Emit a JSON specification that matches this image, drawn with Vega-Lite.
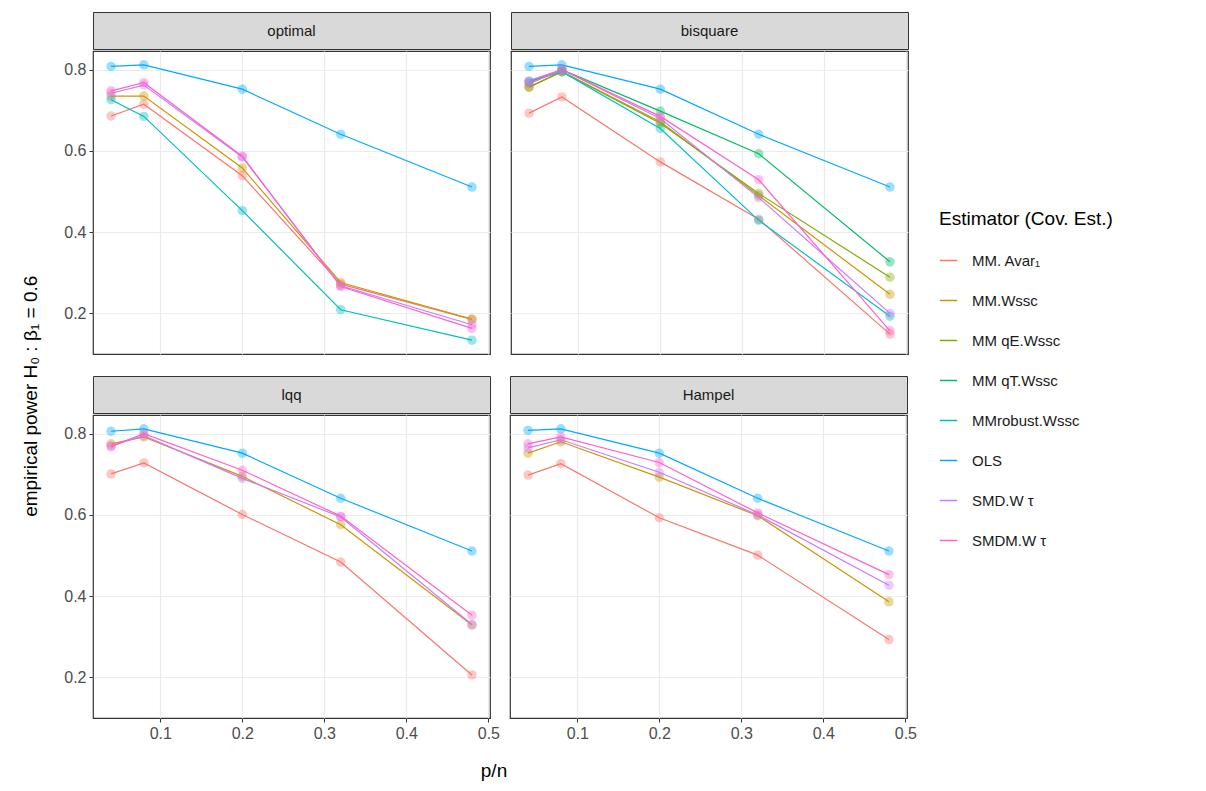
{
  "$schema": "https://vega.github.io/schema/vega-lite/v6.json",
  "background": "white",
  "padding": {"left": 22, "top": 11, "right": 6, "bottom": 6},
  "title": {"text": "empirical power   H₀ : β₁ = 0.6", "orient": "left", "anchor": "middle", "fontSize": 19, "fontWeight": "normal", "color": "#000000", "offset": 22},
  "datasets": {
    "pts": [
      {"panel":"optimal","est":"OLS","x":0.04,"y":0.808},{"panel":"optimal","est":"OLS","x":0.08,"y":0.812},{"panel":"optimal","est":"OLS","x":0.2,"y":0.752},{"panel":"optimal","est":"OLS","x":0.32,"y":0.641},{"panel":"optimal","est":"OLS","x":0.48,"y":0.511},
      {"panel":"optimal","est":"MM. Avar₁","x":0.04,"y":0.686},{"panel":"optimal","est":"MM. Avar₁","x":0.08,"y":0.715},{"panel":"optimal","est":"MM. Avar₁","x":0.2,"y":0.539},{"panel":"optimal","est":"MM. Avar₁","x":0.32,"y":0.272},{"panel":"optimal","est":"MM. Avar₁","x":0.48,"y":0.185},
      {"panel":"optimal","est":"MM.Wssc","x":0.04,"y":0.735},{"panel":"optimal","est":"MM.Wssc","x":0.08,"y":0.735},{"panel":"optimal","est":"MM.Wssc","x":0.2,"y":0.558},{"panel":"optimal","est":"MM.Wssc","x":0.32,"y":0.276},{"panel":"optimal","est":"MM.Wssc","x":0.48,"y":0.186},
      {"panel":"optimal","est":"MMrobust.Wssc","x":0.04,"y":0.726},{"panel":"optimal","est":"MMrobust.Wssc","x":0.08,"y":0.685},{"panel":"optimal","est":"MMrobust.Wssc","x":0.2,"y":0.453},{"panel":"optimal","est":"MMrobust.Wssc","x":0.32,"y":0.209},{"panel":"optimal","est":"MMrobust.Wssc","x":0.48,"y":0.134},
      {"panel":"optimal","est":"SMD.W τ","x":0.04,"y":0.742},{"panel":"optimal","est":"SMD.W τ","x":0.08,"y":0.762},{"panel":"optimal","est":"SMD.W τ","x":0.2,"y":0.585},{"panel":"optimal","est":"SMD.W τ","x":0.32,"y":0.268},{"panel":"optimal","est":"SMD.W τ","x":0.48,"y":0.172},
      {"panel":"optimal","est":"SMDM.W τ","x":0.04,"y":0.748},{"panel":"optimal","est":"SMDM.W τ","x":0.08,"y":0.768},{"panel":"optimal","est":"SMDM.W τ","x":0.2,"y":0.587},{"panel":"optimal","est":"SMDM.W τ","x":0.32,"y":0.266},{"panel":"optimal","est":"SMDM.W τ","x":0.48,"y":0.163},

      {"panel":"bisquare","est":"OLS","x":0.04,"y":0.808},{"panel":"bisquare","est":"OLS","x":0.08,"y":0.812},{"panel":"bisquare","est":"OLS","x":0.2,"y":0.752},{"panel":"bisquare","est":"OLS","x":0.32,"y":0.641},{"panel":"bisquare","est":"OLS","x":0.48,"y":0.511},
      {"panel":"bisquare","est":"MM. Avar₁","x":0.04,"y":0.693},{"panel":"bisquare","est":"MM. Avar₁","x":0.08,"y":0.733},{"panel":"bisquare","est":"MM. Avar₁","x":0.2,"y":0.573},{"panel":"bisquare","est":"MM. Avar₁","x":0.32,"y":0.432},{"panel":"bisquare","est":"MM. Avar₁","x":0.48,"y":0.149},
      {"panel":"bisquare","est":"MM.Wssc","x":0.04,"y":0.757},{"panel":"bisquare","est":"MM.Wssc","x":0.08,"y":0.795},{"panel":"bisquare","est":"MM.Wssc","x":0.2,"y":0.672},{"panel":"bisquare","est":"MM.Wssc","x":0.32,"y":0.49},{"panel":"bisquare","est":"MM.Wssc","x":0.48,"y":0.247},
      {"panel":"bisquare","est":"MM  qE.Wssc","x":0.04,"y":0.757},{"panel":"bisquare","est":"MM  qE.Wssc","x":0.08,"y":0.795},{"panel":"bisquare","est":"MM  qE.Wssc","x":0.2,"y":0.668},{"panel":"bisquare","est":"MM  qE.Wssc","x":0.32,"y":0.495},{"panel":"bisquare","est":"MM  qE.Wssc","x":0.48,"y":0.289},
      {"panel":"bisquare","est":"MM  qT.Wssc","x":0.04,"y":0.77},{"panel":"bisquare","est":"MM  qT.Wssc","x":0.08,"y":0.8},{"panel":"bisquare","est":"MM  qT.Wssc","x":0.2,"y":0.698},{"panel":"bisquare","est":"MM  qT.Wssc","x":0.32,"y":0.593},{"panel":"bisquare","est":"MM  qT.Wssc","x":0.48,"y":0.327},
      {"panel":"bisquare","est":"MMrobust.Wssc","x":0.04,"y":0.77},{"panel":"bisquare","est":"MMrobust.Wssc","x":0.08,"y":0.795},{"panel":"bisquare","est":"MMrobust.Wssc","x":0.2,"y":0.655},{"panel":"bisquare","est":"MMrobust.Wssc","x":0.32,"y":0.429},{"panel":"bisquare","est":"MMrobust.Wssc","x":0.48,"y":0.193},
      {"panel":"bisquare","est":"SMD.W τ","x":0.04,"y":0.773},{"panel":"bisquare","est":"SMD.W τ","x":0.08,"y":0.8},{"panel":"bisquare","est":"SMD.W τ","x":0.2,"y":0.68},{"panel":"bisquare","est":"SMD.W τ","x":0.32,"y":0.485},{"panel":"bisquare","est":"SMD.W τ","x":0.48,"y":0.2},
      {"panel":"bisquare","est":"SMDM.W τ","x":0.04,"y":0.765},{"panel":"bisquare","est":"SMDM.W τ","x":0.08,"y":0.8},{"panel":"bisquare","est":"SMDM.W τ","x":0.2,"y":0.685},{"panel":"bisquare","est":"SMDM.W τ","x":0.32,"y":0.529},{"panel":"bisquare","est":"SMDM.W τ","x":0.48,"y":0.157},

      {"panel":"lqq","est":"OLS","x":0.04,"y":0.806},{"panel":"lqq","est":"OLS","x":0.08,"y":0.812},{"panel":"lqq","est":"OLS","x":0.2,"y":0.752},{"panel":"lqq","est":"OLS","x":0.32,"y":0.641},{"panel":"lqq","est":"OLS","x":0.48,"y":0.511},
      {"panel":"lqq","est":"MM. Avar₁","x":0.04,"y":0.701},{"panel":"lqq","est":"MM. Avar₁","x":0.08,"y":0.728},{"panel":"lqq","est":"MM. Avar₁","x":0.2,"y":0.601},{"panel":"lqq","est":"MM. Avar₁","x":0.32,"y":0.484},{"panel":"lqq","est":"MM. Avar₁","x":0.48,"y":0.206},
      {"panel":"lqq","est":"MM.Wssc","x":0.04,"y":0.775},{"panel":"lqq","est":"MM.Wssc","x":0.08,"y":0.792},{"panel":"lqq","est":"MM.Wssc","x":0.2,"y":0.695},{"panel":"lqq","est":"MM.Wssc","x":0.32,"y":0.576},{"panel":"lqq","est":"MM.Wssc","x":0.48,"y":0.329},
      {"panel":"lqq","est":"SMD.W τ","x":0.04,"y":0.77},{"panel":"lqq","est":"SMD.W τ","x":0.08,"y":0.795},{"panel":"lqq","est":"SMD.W τ","x":0.2,"y":0.69},{"panel":"lqq","est":"SMD.W τ","x":0.32,"y":0.595},{"panel":"lqq","est":"SMD.W τ","x":0.48,"y":0.33},
      {"panel":"lqq","est":"SMDM.W τ","x":0.04,"y":0.768},{"panel":"lqq","est":"SMDM.W τ","x":0.08,"y":0.8},{"panel":"lqq","est":"SMDM.W τ","x":0.2,"y":0.71},{"panel":"lqq","est":"SMDM.W τ","x":0.32,"y":0.597},{"panel":"lqq","est":"SMDM.W τ","x":0.48,"y":0.353},

      {"panel":"Hampel","est":"OLS","x":0.04,"y":0.808},{"panel":"Hampel","est":"OLS","x":0.08,"y":0.812},{"panel":"Hampel","est":"OLS","x":0.2,"y":0.752},{"panel":"Hampel","est":"OLS","x":0.32,"y":0.641},{"panel":"Hampel","est":"OLS","x":0.48,"y":0.511},
      {"panel":"Hampel","est":"MM. Avar₁","x":0.04,"y":0.698},{"panel":"Hampel","est":"MM. Avar₁","x":0.08,"y":0.726},{"panel":"Hampel","est":"MM. Avar₁","x":0.2,"y":0.593},{"panel":"Hampel","est":"MM. Avar₁","x":0.32,"y":0.501},{"panel":"Hampel","est":"MM. Avar₁","x":0.48,"y":0.293},
      {"panel":"Hampel","est":"MM.Wssc","x":0.04,"y":0.752},{"panel":"Hampel","est":"MM.Wssc","x":0.08,"y":0.78},{"panel":"Hampel","est":"MM.Wssc","x":0.2,"y":0.693},{"panel":"Hampel","est":"MM.Wssc","x":0.32,"y":0.598},{"panel":"Hampel","est":"MM.Wssc","x":0.48,"y":0.386},
      {"panel":"Hampel","est":"SMD.W τ","x":0.04,"y":0.765},{"panel":"Hampel","est":"SMD.W τ","x":0.08,"y":0.785},{"panel":"Hampel","est":"SMD.W τ","x":0.2,"y":0.705},{"panel":"Hampel","est":"SMD.W τ","x":0.32,"y":0.6},{"panel":"Hampel","est":"SMD.W τ","x":0.48,"y":0.427},
      {"panel":"Hampel","est":"SMDM.W τ","x":0.04,"y":0.775},{"panel":"Hampel","est":"SMDM.W τ","x":0.08,"y":0.792},{"panel":"Hampel","est":"SMDM.W τ","x":0.2,"y":0.729},{"panel":"Hampel","est":"SMDM.W τ","x":0.32,"y":0.605},{"panel":"Hampel","est":"SMDM.W τ","x":0.48,"y":0.453}
    ]
  },
  "spacing": 20,
  "vconcat": [
    {"spacing": 19, "hconcat": [
      {"spacing": 0, "vconcat": [
        {"width": 397, "height": 37, "data": {"values": [{"l": "optimal"}]}, "view": {"fill": "#d9d9d9", "stroke": "#333333"},
          "mark": {"type": "text", "fontSize": 15, "color": "#1a1a1a"}, "encoding": {"text": {"field": "l"}}},
        {"data": {"name": "pts"}, "transform": [{"filter": "datum.panel == 'optimal'"}], "width": 397, "height": 303,
          "layer": [
            {"mark": {"type": "line", "strokeWidth": 1.2}, "encoding": {
              "x": {"field": "x", "type": "quantitative", "scale": {"domain": [0.018, 0.502], "nice": false, "zero": false}, "axis": {"values": [0.1, 0.2, 0.3, 0.4, 0.5], "labels": false, "ticks": false, "title": null}},
              "y": {"field": "y", "type": "quantitative", "scale": {"domain": [0.1, 0.846], "nice": false, "zero": false}, "axis": {"values": [0.2, 0.4, 0.6, 0.8], "format": ".1f", "title": null}},
              "color": {"field": "est", "type": "nominal", "scale": {"domain": ["MM. Avar₁", "MM.Wssc", "MM  qE.Wssc", "MM  qT.Wssc", "MMrobust.Wssc", "OLS", "SMD.W τ", "SMDM.W τ"], "range": ["#F8766D", "#CD9600", "#7CAE00", "#00BE67", "#00BFC4", "#00A9FF", "#C77CFF", "#FF61CC"]}, "legend": {"title": "Estimator (Cov. Est.)", "orient": "none", "legendX": 846, "legendY": 198}}}},
            {"mark": {"type": "circle", "size": 90, "opacity": 0.4}, "encoding": {
              "x": {"field": "x", "type": "quantitative", "axis": {"values": [0.05, 0.15, 0.25, 0.35, 0.45], "labels": false, "ticks": false, "title": null, "orient": "bottom", "gridWidth": 0.6}},
              "y": {"field": "y", "type": "quantitative", "axis": {"values": [0.3, 0.5, 0.7], "labels": false, "ticks": false, "title": null, "orient": "left", "gridWidth": 0.6}},
              "color": {"field": "est", "type": "nominal"}}}
          ],
          "resolve": {"axis": {"x": "independent", "y": "independent"}}}
      ]},
      {"spacing": 0, "vconcat": [
        {"width": 397, "height": 37, "data": {"values": [{"l": "bisquare"}]}, "view": {"fill": "#d9d9d9", "stroke": "#333333"},
          "mark": {"type": "text", "fontSize": 15, "color": "#1a1a1a"}, "encoding": {"text": {"field": "l"}}},
        {"data": {"name": "pts"}, "transform": [{"filter": "datum.panel == 'bisquare'"}], "width": 397, "height": 303,
          "layer": [
            {"mark": {"type": "line", "strokeWidth": 1.2}, "encoding": {
              "x": {"field": "x", "type": "quantitative", "scale": {"domain": [0.018, 0.502], "nice": false, "zero": false}, "axis": {"values": [0.1, 0.2, 0.3, 0.4, 0.5], "labels": false, "ticks": false, "title": null}},
              "y": {"field": "y", "type": "quantitative", "scale": {"domain": [0.1, 0.846], "nice": false, "zero": false}, "axis": {"values": [0.2, 0.4, 0.6, 0.8], "labels": false, "ticks": false, "title": null}},
              "color": {"field": "est", "type": "nominal"}}},
            {"mark": {"type": "circle", "size": 90, "opacity": 0.4}, "encoding": {
              "x": {"field": "x", "type": "quantitative", "axis": {"values": [0.05, 0.15, 0.25, 0.35, 0.45], "labels": false, "ticks": false, "title": null, "orient": "bottom", "gridWidth": 0.6}},
              "y": {"field": "y", "type": "quantitative", "axis": {"values": [0.3, 0.5, 0.7], "labels": false, "ticks": false, "title": null, "orient": "left", "gridWidth": 0.6}},
              "color": {"field": "est", "type": "nominal"}}}
          ],
          "resolve": {"axis": {"x": "independent", "y": "independent"}}}
      ]}
    ]},
    {"hconcat": [
      {"spacing": 0, "vconcat": [
        {"width": 397, "height": 37, "data": {"values": [{"l": "lqq"}]}, "view": {"fill": "#d9d9d9", "stroke": "#333333"},
          "mark": {"type": "text", "fontSize": 15, "color": "#1a1a1a"}, "encoding": {"text": {"field": "l"}}},
        {"data": {"name": "pts"}, "transform": [{"filter": "datum.panel == 'lqq'"}], "width": 397, "height": 303,
          "layer": [
            {"mark": {"type": "line", "strokeWidth": 1.2}, "encoding": {
              "x": {"field": "x", "type": "quantitative", "scale": {"domain": [0.018, 0.502], "nice": false, "zero": false}, "axis": {"values": [0.1, 0.2, 0.3, 0.4, 0.5], "format": ".1f", "title": null}},
              "y": {"field": "y", "type": "quantitative", "scale": {"domain": [0.1, 0.846], "nice": false, "zero": false}, "axis": {"values": [0.2, 0.4, 0.6, 0.8], "format": ".1f", "title": null}},
              "color": {"field": "est", "type": "nominal"}}},
            {"mark": {"type": "circle", "size": 90, "opacity": 0.4}, "encoding": {
              "x": {"field": "x", "type": "quantitative", "axis": {"values": [0.05, 0.15, 0.25, 0.35, 0.45], "labels": false, "ticks": false, "title": null, "orient": "bottom", "gridWidth": 0.6}},
              "y": {"field": "y", "type": "quantitative", "axis": {"values": [0.3, 0.5, 0.7], "labels": false, "ticks": false, "title": null, "orient": "left", "gridWidth": 0.6}},
              "color": {"field": "est", "type": "nominal"}}}
          ],
          "resolve": {"axis": {"x": "independent", "y": "independent"}}}
      ]},
      {"spacing": 0, "vconcat": [
        {"width": 397, "height": 37, "data": {"values": [{"l": "Hampel"}]}, "view": {"fill": "#d9d9d9", "stroke": "#333333"},
          "mark": {"type": "text", "fontSize": 15, "color": "#1a1a1a"}, "encoding": {"text": {"field": "l"}}},
        {"data": {"name": "pts"}, "transform": [{"filter": "datum.panel == 'Hampel'"}], "width": 397, "height": 303,
          "layer": [
            {"mark": {"type": "line", "strokeWidth": 1.2}, "encoding": {
              "x": {"field": "x", "type": "quantitative", "scale": {"domain": [0.018, 0.502], "nice": false, "zero": false}, "axis": {"values": [0.1, 0.2, 0.3, 0.4, 0.5], "format": ".1f", "title": null}},
              "y": {"field": "y", "type": "quantitative", "scale": {"domain": [0.1, 0.846], "nice": false, "zero": false}, "axis": {"values": [0.2, 0.4, 0.6, 0.8], "labels": false, "ticks": false, "title": null}},
              "color": {"field": "est", "type": "nominal"}}},
            {"mark": {"type": "circle", "size": 90, "opacity": 0.4}, "encoding": {
              "x": {"field": "x", "type": "quantitative", "axis": {"values": [0.05, 0.15, 0.25, 0.35, 0.45], "labels": false, "ticks": false, "title": null, "orient": "bottom", "gridWidth": 0.6}},
              "y": {"field": "y", "type": "quantitative", "axis": {"values": [0.3, 0.5, 0.7], "labels": false, "ticks": false, "title": null, "orient": "left", "gridWidth": 0.6}},
              "color": {"field": "est", "type": "nominal"}}}
          ],
          "resolve": {"axis": {"x": "independent", "y": "independent"}}}
      ]}
    ]},
    {"width": 802, "height": 14, "data": {"values": [{"l": "p/n"}]}, "view": {"stroke": null},
      "mark": {"type": "text", "fontSize": 19, "color": "#000000", "baseline": "middle"}, "encoding": {"text": {"field": "l"}}}
  ],
  "config": {
    "font": "Liberation Sans",
    "view": {"stroke": "#333333", "strokeWidth": 1.2},
    "concat": {"spacing": 8},
    "axis": {"gridColor": "#ebebeb", "gridWidth": 1.2, "labelFontSize": 16, "labelColor": "#4d4d4d", "titleFontSize": 19, "titleFontWeight": "normal", "titleColor": "#000000", "tickColor": "#333333", "tickSize": 4, "labelPadding": 3, "domain": false},
    "legend": {"titleFontSize": 19, "titleFontWeight": "normal", "titleColor": "#000000", "labelFontSize": 15, "labelColor": "#1a1a1a", "symbolType": "stroke", "symbolStrokeWidth": 1.5, "symbolOpacity": 1, "symbolSize": 300, "rowPadding": 22, "titlePadding": 22, "labelOffset": 14}
  }
}
